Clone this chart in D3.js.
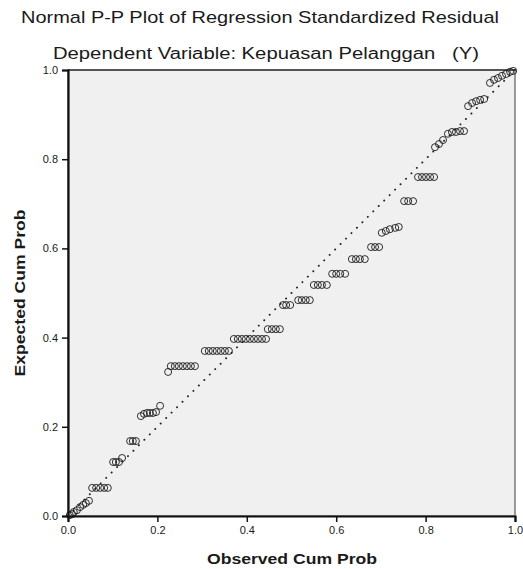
<!DOCTYPE html>
<html>
<head>
<meta charset="utf-8">
<script src="https://cdn.jsdelivr.net/npm/d3@7"></script>
<style>
  html, body { margin: 0; padding: 0; background: #ffffff; }
  svg { display: block; }
  text { font-family: "Liberation Sans", Arial, sans-serif; fill: #1a1a1a; }
</style>
</head>
<body>
<svg id="chart" width="523" height="569"></svg>
<script>
const titleText = "Normal P-P Plot of Regression Standardized Residual";
const subtitleText = "Dependent Variable: Kepuasan Pelanggan   (Y)";
const xLabel = "Observed Cum Prob";
const yLabel = "Expected Cum Prob";
const tickValues = [0.0, 0.2, 0.4, 0.6, 0.8, 1.0];

const observed = [
  0.004, 0.009, 0.013, 0.020, 0.027, 0.034, 0.040, 0.047,
  0.054, 0.063, 0.072, 0.081, 0.089,
  0.101, 0.107, 0.114, 0.121,
  0.139, 0.145, 0.152,
  0.163, 0.170, 0.177, 0.183, 0.190, 0.197, 0.206,
  0.224, 0.230, 0.239, 0.248, 0.257, 0.266, 0.275, 0.284,
  0.306, 0.315, 0.324, 0.333, 0.342, 0.351, 0.360,
  0.371, 0.380, 0.389, 0.398, 0.407, 0.416, 0.425, 0.434, 0.443,
  0.447, 0.456, 0.465, 0.474,
  0.481, 0.488, 0.497,
  0.515, 0.523, 0.532, 0.541,
  0.550, 0.559, 0.568, 0.579,
  0.591, 0.600, 0.609, 0.620,
  0.635, 0.644, 0.653, 0.664,
  0.678, 0.687, 0.696,
  0.702, 0.711, 0.720, 0.732, 0.740,
  0.752, 0.761, 0.772,
  0.783, 0.792, 0.801, 0.810, 0.819,
  0.821, 0.830, 0.839, 0.850, 0.859, 0.868, 0.877, 0.886,
  0.895, 0.904, 0.913, 0.922, 0.931,
  0.944, 0.953, 0.962, 0.971, 0.980, 0.989, 0.996
];
const expected = [
  0.002, 0.004, 0.009, 0.013, 0.020, 0.025, 0.029, 0.034,
  0.063, 0.063, 0.063, 0.063, 0.063,
  0.121, 0.121, 0.121, 0.130,
  0.168, 0.168, 0.168,
  0.224, 0.229, 0.231, 0.231, 0.231, 0.233, 0.247,
  0.323, 0.336, 0.336, 0.336, 0.336, 0.336, 0.336, 0.336,
  0.370, 0.370, 0.370, 0.370, 0.370, 0.370, 0.370,
  0.397, 0.397, 0.397, 0.397, 0.397, 0.397, 0.397, 0.397, 0.397,
  0.419, 0.419, 0.419, 0.419,
  0.473, 0.473, 0.473,
  0.484, 0.484, 0.484, 0.484,
  0.518, 0.518, 0.518, 0.518,
  0.543, 0.543, 0.543, 0.543,
  0.576, 0.576, 0.576, 0.576,
  0.603, 0.603, 0.603,
  0.635, 0.639, 0.643, 0.646, 0.648,
  0.706, 0.706, 0.706,
  0.760, 0.760, 0.760, 0.760, 0.760,
  0.827, 0.834, 0.843, 0.857, 0.861, 0.861, 0.863, 0.863,
  0.919, 0.926, 0.930, 0.933, 0.935,
  0.971, 0.978, 0.982, 0.987, 0.991, 0.996, 0.998
];

const svg = d3.select("#chart");
const plot = { left: 68, right: 515, top: 70, bottom: 516 };

const x = d3.scaleLinear().domain([0, 1]).range([plot.left, plot.right]);
const y = d3.scaleLinear().domain([0, 1]).range([plot.bottom, plot.top]);

// Titles
svg.append("text")
  .attr("x", 260).attr("y", 23)
  .attr("text-anchor", "middle")
  .attr("font-size", 17)
  .attr("textLength", 478).attr("lengthAdjust", "spacingAndGlyphs")
  .text(titleText);

svg.append("text")
  .attr("x", 266).attr("y", 59)
  .attr("text-anchor", "middle")
  .attr("font-size", 16)
  .style("white-space", "pre")
  .attr("xml:space", "preserve")
  .attr("textLength", 426).attr("lengthAdjust", "spacingAndGlyphs")
  .text(subtitleText);

// Plot background
svg.append("rect")
  .attr("x", plot.left).attr("y", plot.top)
  .attr("width", plot.right - plot.left).attr("height", plot.bottom - plot.top)
  .attr("fill", "#f0f0f0")
  .attr("stroke", "#7a7a7a").attr("stroke-width", 1.5);

// Top line darker
svg.append("line")
  .attr("x1", plot.left).attr("x2", plot.right)
  .attr("y1", plot.top).attr("y2", plot.top)
  .attr("stroke", "#555").attr("stroke-width", 2);

// Diagonal reference line
svg.append("line")
  .attr("x1", x(0)).attr("y1", y(0))
  .attr("x2", x(1)).attr("y2", y(1))
  .attr("stroke", "#222").attr("stroke-width", 1.9)
  .attr("stroke-linecap", "round")
  .attr("stroke-dasharray", "0.1,7.6");

// Points
const pts = observed.map((o, i) => ({ o, e: expected[i] }));
svg.append("g").selectAll("circle")
  .data(pts).join("circle")
  .attr("cx", d => x(d.o))
  .attr("cy", d => y(d.e))
  .attr("r", 3.5)
  .attr("fill", "none")
  .attr("stroke", "#1a1a1a")
  .attr("stroke-width", 0.9);

// Axes
const fmt = d3.format(".1f");
const xAxis = svg.append("g")
  .attr("transform", `translate(0,${plot.bottom})`)
  .call(d3.axisBottom(x).tickValues(tickValues).tickFormat(fmt).tickSize(6).tickPadding(4));
const yAxis = svg.append("g")
  .attr("transform", `translate(${plot.left},0)`)
  .call(d3.axisLeft(y).tickValues(tickValues).tickFormat(fmt).tickSize(6).tickPadding(4));

[xAxis, yAxis].forEach(g => {
  g.select(".domain").attr("stroke", "#111").attr("stroke-width", 2.2);
  g.selectAll(".tick line").attr("stroke", "#111").attr("stroke-width", 1.5);
  g.selectAll(".tick text")
    .attr("font-size", 11)
    .attr("fill", "#1a1a1a")
    .style("font-family", "'Liberation Sans', Arial, sans-serif");
});

// Axis labels
svg.append("text")
  .attr("x", 292).attr("y", 564)
  .attr("text-anchor", "middle")
  .attr("font-size", 14).attr("font-weight", "bold")
  .attr("textLength", 170).attr("lengthAdjust", "spacingAndGlyphs")
  .text(xLabel);

svg.append("text")
  .attr("transform", `translate(25,${(plot.top + plot.bottom) / 2}) rotate(-90)`)
  .attr("text-anchor", "middle")
  .attr("font-size", 14).attr("font-weight", "bold")
  .attr("textLength", 167).attr("lengthAdjust", "spacingAndGlyphs")
  .text(yLabel);
</script>
</body>
</html>
